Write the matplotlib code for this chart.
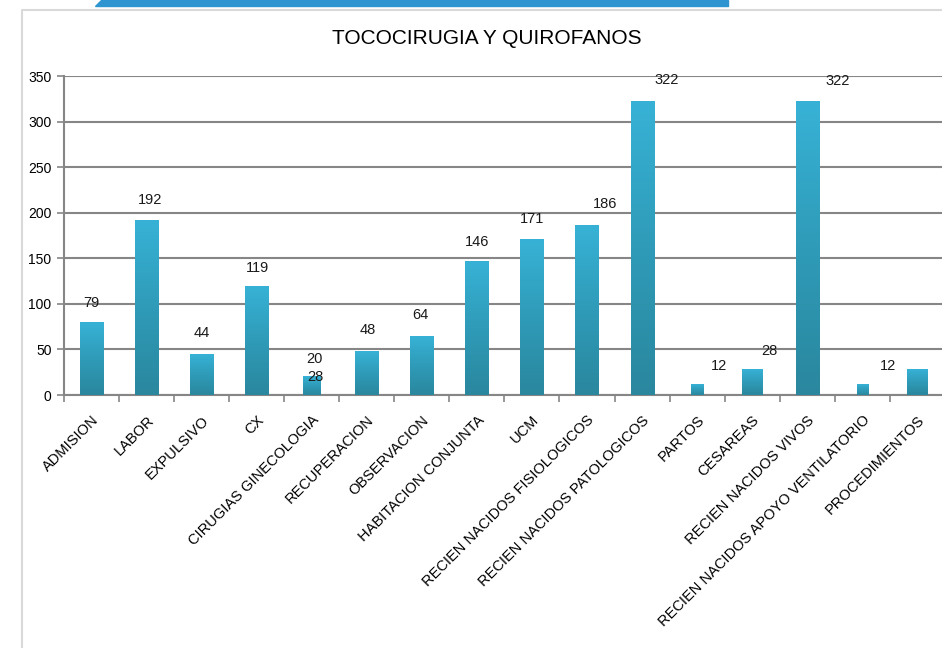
import numpy as np
import matplotlib
matplotlib.use("Agg")
import matplotlib.pyplot as plt
from matplotlib.colors import LinearSegmentedColormap
from matplotlib.patches import Polygon

plt.rcParams['font.family'] = ['Liberation Sans', 'DejaVu Sans']

categories = ["ADMISION", "LABOR", "EXPULSIVO", "CX", "CIRUGIAS GINECOLOGIA",
              "RECUPERACION", "OBSERVACION", "HABITACION CONJUNTA", "UCM",
              "RECIEN NACIDOS FISIOLOGICOS", "RECIEN NACIDOS PATOLOGICOS",
              "PARTOS", "CESAREAS", "RECIEN NACIDOS VIVOS",
              "RECIEN NACIDOS APOYO VENTILATORIO", "PROCEDIMIENTOS"]
values = [79, 192, 44, 119, 20, 48, 64, 146, 171, 186, 322, 12, 28, 322, 12, 28]
yticks = [0, 50, 100, 150, 200, 250, 300, 350]

# bar widths and label offsets (pixels) as drawn in the original
widths = [0.42, 0.42, 0.42, 0.42, 0.31, 0.42, 0.42, 0.42, 0.42, 0.42, 0.42,
          0.22, 0.38, 0.42, 0.2, 0.37]
label_dx = [0, 3, 0, 1, 3, 1, -1, 0, 0, 18, 25, 22, 17, 30, 26, -602]
label_dy = [20, 20, 22, 19, 18, 21, 22, 20, 20, 21, 22, 18, 18, 21, 18, -8]

fig = plt.figure(figsize=(9.42, 6.48), dpi=100)
ax = fig.add_axes([0.068, 0.3904, 0.935, 0.4923])

# decorative frame
fig.patches.append(Polygon([[101 / 942, 1.0], [728 / 942, 1.0], [728 / 942, 1 - 6 / 648],
                            [95 / 942, 1 - 6 / 648]], closed=True,
                           transform=fig.transFigure, color='#2E95D0', zorder=0))
fig.lines.append(plt.Line2D([22 / 942, 22 / 942, 1.0], [0, 1 - 10 / 648, 1 - 10 / 648],
                            transform=fig.transFigure, color='#D9D9D9', lw=1.5))

cmap = LinearSegmentedColormap.from_list('bar', ['#2A879E', '#2F9BB8', '#37B2D6'])
grad = np.linspace(0, 1, 256).reshape(-1, 1)

x = np.arange(len(categories))
for xi, v, w in zip(x, values, widths):
    ax.imshow(grad, extent=[xi - w / 2, xi + w / 2, 0, v], origin='lower',
              cmap=cmap, aspect='auto', zorder=3)

for xi, v, dx, dy in zip(x, values, label_dx, label_dy):
    ax.annotate(str(v), (xi, v), xytext=(dx * 0.72, dy * 0.72),
                textcoords='offset points', ha='center', va='center',
                fontsize=10.5, color='#1a1a1a', zorder=4)

ax.set_xlim(-0.5, len(categories) - 0.5)
ax.set_ylim(0, 350)
ax.set_yticks(yticks)
ax.set_yticklabels([str(t) for t in yticks], fontsize=10)
ax.yaxis.grid(True, color='#868686', lw=1.5, zorder=1)
ax.set_axisbelow(True)

ax.set_xticks(x)
ax.set_xticklabels(categories, rotation=45, ha='right', rotation_mode='anchor',
                   fontsize=10.5)
ax.set_xticks(np.arange(len(categories) + 1) - 0.5, minor=True)
ax.tick_params(axis='x', which='major', length=0, pad=13)
ax.tick_params(axis='x', which='minor', length=5, color='#868686', width=1.2)
ax.tick_params(axis='y', length=5, color='#868686', width=1.2, pad=4)

for s in ['top', 'right']:
    ax.spines[s].set_visible(False)
for s in ['left', 'bottom']:
    ax.spines[s].set_color('#868686')
    ax.spines[s].set_linewidth(1.5)

fig.text(487 / 942, 1 - 38 / 648, "TOCOCIRUGIA Y QUIROFANOS", ha='center',
         va='center', fontsize=15)

fig.savefig("out.png", dpi=100)
